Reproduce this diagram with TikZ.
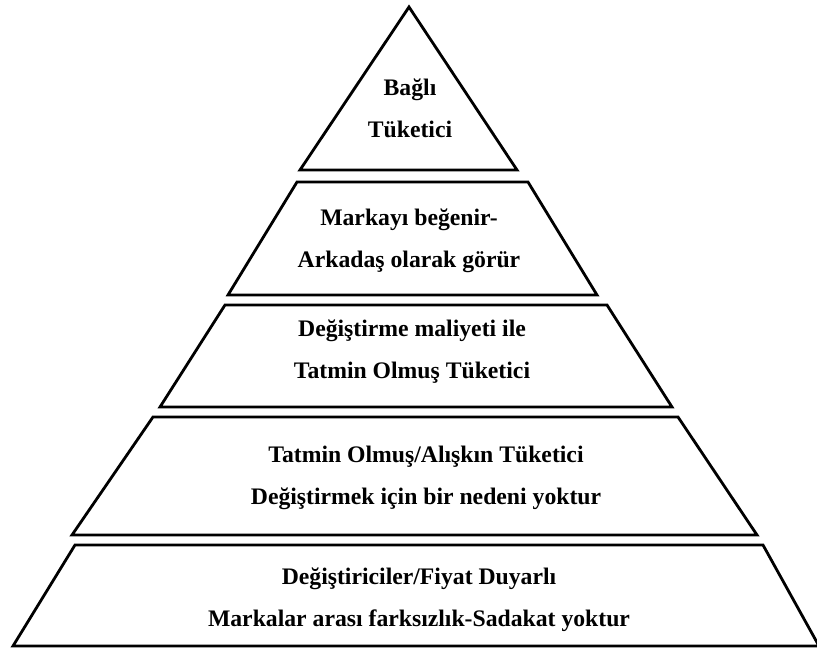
\documentclass[tikz,border=0pt]{standalone}
\usepackage{fontspec}
\setmainfont{Liberation Serif}
\begin{document}
\begin{tikzpicture}[x=1pt,y=-1pt,
  layer/.style={line width=2.8pt,line join=miter},
  caption/.style={font=\bfseries\fontsize{23.7}{42}\selectfont,align=center}]
\useasboundingbox (0,0) rectangle (817,650);
\coordinate (T) at (409,7);
\coordinate (B1L) at (300,170);
\coordinate (B1R) at (517,170);
\coordinate (T2L) at (297,182);
\coordinate (T2R) at (528,182);
\coordinate (B2L) at (228,295);
\coordinate (B2R) at (597,295);
\coordinate (T3L) at (225,305);
\coordinate (T3R) at (607,305);
\coordinate (B3L) at (160,407);
\coordinate (B3R) at (672,407);
\coordinate (T4L) at (153,417);
\coordinate (T4R) at (678,417);
\coordinate (B4L) at (72,535);
\coordinate (B4R) at (757,535);
\coordinate (T5L) at (75,545);
\coordinate (T5R) at (763,545);
\coordinate (B5L) at (13,646);
\coordinate (B5R) at (819,646);
\draw [layer] (T) -- (B1R) -- (B1L) -- cycle;
\draw [layer] (T2L) -- (T2R) -- (B2R) -- (B2L) -- cycle;
\draw [layer] (T3L) -- (T3R) -- (B3R) -- (B3L) -- cycle;
\draw [layer] (T4L) -- (T4R) -- (B4R) -- (B4L) -- cycle;
\draw [layer] (T5L) -- (T5R) -- (B5R) -- (B5L) -- cycle;
\node[caption] (bagli) at (410,108) {Bağlı\\Tüketici};
\node[caption] (begenir) at (409,241) {Markayı beğenir-\\Arkadaş olarak görür};
\node[caption] (maliyet) at (412,352) {Değiştirme maliyeti ile\\Tatmin Olmuş Tüketici};
\node[caption] (aliskin) at (426,478) {Tatmin Olmuş/Alışkın Tüketici\\Değiştirmek için bir nedeni yoktur};
\node[caption] (fiyat) at (419,600) {Değiştiriciler/Fiyat Duyarlı\\Markalar arası farksızlık-Sadakat yoktur};
\end{tikzpicture}
\end{document}
